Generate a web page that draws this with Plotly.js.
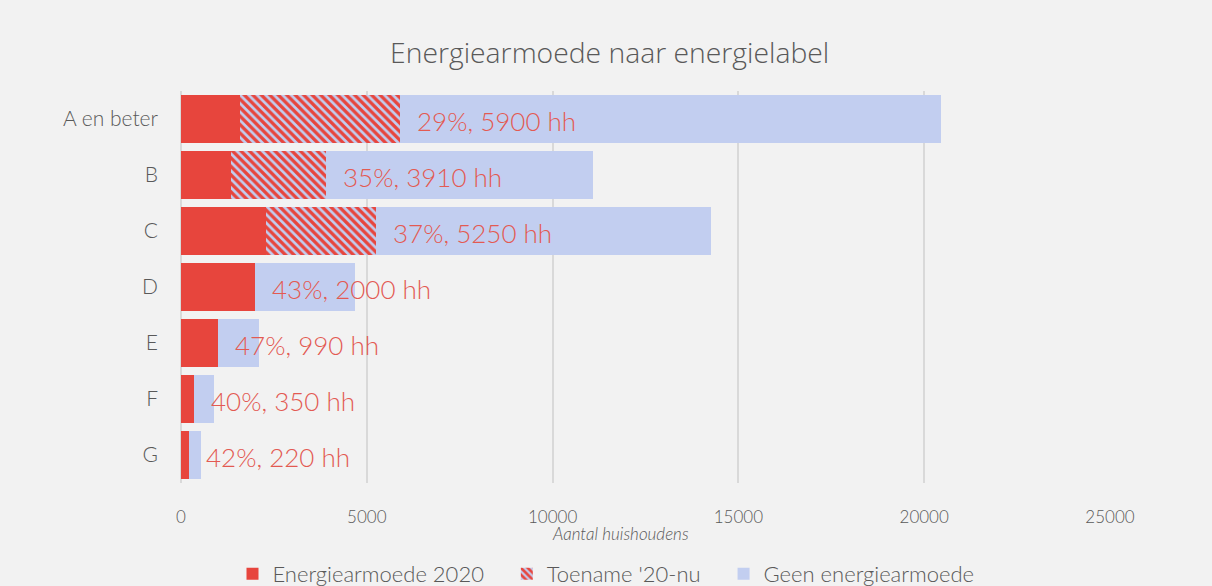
<!DOCTYPE html>
<html>
<head>
<meta charset="utf-8">
<script src="https://cdn.plot.ly/plotly-3.0.1.min.js"></script>
<style>
  html, body { margin: 0; padding: 0; background: #f2f2f2; }
  #chart { width: 1212px; height: 586px; }
</style>
</head>
<body>
<div id="chart"></div>
<script>
// ---- data ----
const categories = ['A en beter', 'B', 'C', 'D', 'E', 'F', 'G'];
const energiearmoede2020 = [1590, 1340, 2300, 1990, 990, 350, 220];
const toename = [4310, 2570, 2950, 10, 0, 0, 0];
const geenEnergiearmoede = [14550, 7190, 9000, 2670, 1120, 530, 320];
const percentLabels = ['29%', '35%', '37%', '43%', '47%', '40%', '42%'];
const huishoudensLabels = ['5900', '3910', '5250', '2000', '990', '350', '220'];
const seriesNames = ['Energiearmoede 2020', "Toename '20-nu", 'Geen energiearmoede'];
const xTicks = [0, 5000, 10000, 15000, 20000, 25000];

const RED = '#E7453D';
const BLUE = '#C2CEF0';
const GRAY = '#595959';
const FONT = 'Lato, "Open Sans", sans-serif';
const PAD = '\u00a0\u00a0\u00a0';

const traces = [
  {
    type: 'bar', orientation: 'h', name: seriesNames[0] + PAD,
    y: categories, x: energiearmoede2020,
    marker: { color: RED, line: { width: 0 } },
    hoverinfo: 'skip'
  },
  {
    type: 'bar', orientation: 'h', name: seriesNames[1] + PAD,
    y: categories, x: toename,
    marker: {
      color: BLUE,
      line: { width: 0 },
      pattern: { shape: '\\', fgcolor: RED, bgcolor: BLUE, fgopacity: 1, size: 6, solidity: 0.55, fillmode: 'replace' }
    },
    hoverinfo: 'skip'
  },
  {
    type: 'bar', orientation: 'h', name: seriesNames[2],
    y: categories, x: geenEnergiearmoede,
    marker: { color: BLUE, line: { width: 0 } },
    hoverinfo: 'skip'
  }
];

const annotations = categories.map((c, i) => ({
  x: energiearmoede2020[i] + toename[i],
  y: c,
  xref: 'x', yref: 'y',
  xanchor: 'left', yanchor: 'middle',
  xshift: 15, yshift: -2,
  showarrow: false,
  text: percentLabels[i] + ', ' + huishoudensLabels[i] + ' hh',
  font: { family: FONT, size: 26, color: '#E35A52', weight: 300 }
}));

annotations.push({
  xref: 'paper', yref: 'paper',
  x: (620 - 181) / (1110 - 181), y: -0.13,
  xanchor: 'center', yanchor: 'middle',
  showarrow: false,
  text: '<i>Aantal huishoudens</i>',
  font: { family: FONT, size: 17, color: GRAY, weight: 300 }
});

const layout = {
  width: 1212, height: 586,
  paper_bgcolor: '#f2f2f2', plot_bgcolor: '#f2f2f2',
  margin: { l: 181, r: 102, t: 91, b: 103, autoexpand: false },
  barmode: 'stack', bargap: 0.16,
  title: {
    text: 'Energiearmoede naar energielabel',
    x: 0.503, xanchor: 'center', y: 0.91, yanchor: 'middle',
    font: { family: '"Open Sans", sans-serif', size: 28.3, color: GRAY, weight: 300 }
  },
  xaxis: {
    range: [0, 25000],
    tickvals: xTicks, ticktext: xTicks.map(String),
    showgrid: true, gridcolor: '#d9d9d9', gridwidth: 2,
    zeroline: true, zerolinecolor: '#d9d9d9', zerolinewidth: 2,
    showline: false, ticks: '',
    ticklabelstandoff: 22,
    tickfont: { family: FONT, size: 17, color: GRAY, weight: 300 },
    fixedrange: true
  },
  yaxis: {
    type: 'category',
    categoryorder: 'array', categoryarray: categories,
    autorange: 'reversed',
    showgrid: false, zeroline: false, showline: false, ticks: '',
    ticklabelstandoff: 22,
    tickfont: { family: FONT, size: 21, color: GRAY, weight: 300 },
    fixedrange: true
  },
  showlegend: true,
  legend: {
    orientation: 'h', x: 0.5, xref: 'container', xanchor: 'center',
    y: -0.232, yanchor: 'middle',
    font: { family: FONT, size: 22, color: GRAY, weight: 300 },
    bgcolor: 'rgba(0,0,0,0)', traceorder: 'normal',
    itemwidth: 30
  },
  annotations: annotations
};

Plotly.newPlot('chart', traces, layout, { displayModeBar: false, staticPlot: true });
</script>
</body>
</html>
